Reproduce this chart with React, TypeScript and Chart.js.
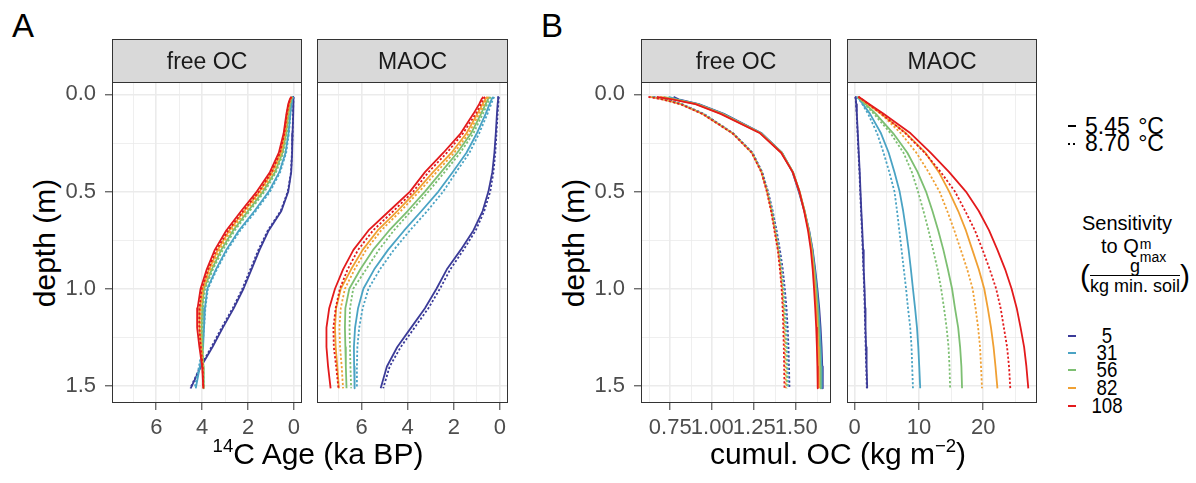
import React, { useEffect, useRef } from 'react';
import { Chart, registerables } from 'chart.js';

Chart.register(...registerables);

// ---------------- data ----------------
const DEPTH_M = [0.0125, 0.025, 0.05, 0.1, 0.2, 0.3, 0.4, 0.5, 0.6, 0.7, 0.8, 0.9, 1.0, 1.1, 1.2, 1.3, 1.4, 1.5125];
const SENSITIVITY_LABELS = ['5', '31', '56', '82', '108'];
const TEMPERATURE_LABELS = ['5.45 °C', '8.70 °C'];
const FACET_LABELS = ['free OC', 'MAOC'];

const DEPTH_TICKS = [0, 0.5, 1.0, 1.5];
const DEPTH_TICK_LABELS = ['0.0', '0.5', '1.0', '1.5'];
const DEPTH_MINOR = [0.25, 0.75, 1.25];
const AGE_TICKS = [0, 2, 4, 6];
const AGE_TICK_LABELS = ['0', '2', '4', '6'];
const AGE_MINOR = [1, 3, 5, 7];
const OCF_TICKS = [0.75, 1.0, 1.25, 1.5];
const OCF_TICK_LABELS = ['0.75', '1.00', '1.25', '1.50'];
const OCF_MINOR = [0.625, 0.875, 1.125, 1.375, 1.625];
const OCM_TICKS = [0, 10, 20];
const OCM_TICK_LABELS = ['0', '10', '20'];
const OCM_MINOR = [5, 15, 25];

// 14C age (ka BP), free OC, rows follow SENSITIVITY_LABELS
const AGE_FREE_545 = [
  [0.02, 0.025, 0.03, 0.04, 0.06, 0.08, 0.12, 0.25, 0.55, 1.1, 1.5, 1.85, 2.2, 2.62, 3.1, 3.55, 4.05, 4.5],
  [0.05, 0.08, 0.11, 0.16, 0.24, 0.37, 0.64, 1.1, 1.72, 2.4, 2.95, 3.4, 3.78, 3.88, 3.92, 3.96, 4.1, 4.28],
  [0.08, 0.12, 0.17, 0.24, 0.34, 0.5, 0.83, 1.35, 2.0, 2.65, 3.17, 3.58, 3.92, 4.0, 4.02, 3.99, 3.95, 3.93],
  [0.1, 0.15, 0.21, 0.29, 0.4, 0.58, 0.95, 1.5, 2.17, 2.82, 3.32, 3.7, 3.98, 4.1, 4.12, 4.05, 3.98, 3.95],
  [0.12, 0.18, 0.25, 0.33, 0.45, 0.66, 1.05, 1.62, 2.3, 2.95, 3.45, 3.8, 4.07, 4.2, 4.22, 4.12, 4.0, 3.95],
];
const AGE_FREE_870 = [
  [0.02, 0.025, 0.03, 0.04, 0.06, 0.09, 0.13, 0.27, 0.58, 1.14, 1.55, 1.9, 2.25, 2.67, 3.15, 3.6, 4.08, 4.52],
  [0.04, 0.07, 0.1, 0.15, 0.22, 0.34, 0.6, 1.04, 1.66, 2.34, 2.9, 3.36, 3.75, 3.86, 3.92, 3.98, 4.14, 4.33],
  [0.07, 0.11, 0.16, 0.22, 0.31, 0.46, 0.78, 1.28, 1.93, 2.58, 3.1, 3.53, 3.87, 3.97, 4.0, 3.98, 3.95, 3.93],
  [0.09, 0.14, 0.2, 0.27, 0.37, 0.54, 0.89, 1.42, 2.09, 2.74, 3.25, 3.64, 3.94, 4.06, 4.08, 4.03, 3.97, 3.95],
  [0.11, 0.17, 0.23, 0.31, 0.42, 0.61, 0.98, 1.53, 2.21, 2.87, 3.38, 3.74, 4.02, 4.12, 4.13, 4.06, 3.98, 3.95],
];
// 14C age (ka BP), MAOC
const AGE_MAOC_545 = [
  [0.07, 0.08, 0.1, 0.13, 0.18, 0.24, 0.33, 0.5, 0.75, 1.15, 1.7, 2.3, 2.75, 3.25, 3.85, 4.45, 4.9, 5.17],
  [0.3, 0.36, 0.45, 0.62, 1.0, 1.45, 2.05, 2.67, 3.4, 4.15, 4.85, 5.45, 5.92, 6.15, 6.28, 6.33, 6.32, 6.3],
  [0.45, 0.52, 0.62, 0.82, 1.25, 1.85, 2.55, 3.25, 4.0, 4.8, 5.5, 6.05, 6.53, 6.7, 6.72, 6.7, 6.68, 6.65],
  [0.55, 0.63, 0.75, 0.98, 1.45, 2.1, 2.9, 3.64, 4.45, 5.3, 5.95, 6.45, 6.9, 7.1, 7.15, 7.12, 7.05, 6.98],
  [0.72, 0.8, 0.9, 1.15, 1.7, 2.45, 3.25, 3.9, 4.8, 5.7, 6.35, 6.8, 7.15, 7.4, 7.52, 7.52, 7.45, 7.34],
];
const AGE_MAOC_870 = [
  [0.05, 0.06, 0.07, 0.1, 0.15, 0.2, 0.28, 0.42, 0.68, 1.05, 1.58, 2.15, 2.6, 3.1, 3.7, 4.3, 4.78, 5.06],
  [0.25, 0.3, 0.38, 0.54, 0.9, 1.32, 1.9, 2.46, 3.15, 3.9, 4.6, 5.2, 5.7, 5.95, 6.1, 6.18, 6.2, 6.2],
  [0.4, 0.46, 0.55, 0.74, 1.15, 1.72, 2.4, 3.1, 3.85, 4.6, 5.25, 5.8, 6.36, 6.5, 6.52, 6.5, 6.48, 6.45],
  [0.5, 0.58, 0.68, 0.9, 1.35, 1.98, 2.75, 3.5, 4.3, 5.15, 5.8, 6.3, 6.72, 6.9, 6.96, 6.93, 6.86, 6.8],
  [0.65, 0.72, 0.82, 1.05, 1.6, 2.3, 3.1, 3.76, 4.62, 5.5, 6.15, 6.6, 6.94, 7.12, 7.22, 7.2, 7.1, 7.0],
];
// cumulative OC (kg m-2), free OC
const OC_FREE_545 = [
  [0.77, 0.8, 0.92, 1.07, 1.295, 1.415, 1.478, 1.515, 1.548, 1.577, 1.598, 1.613, 1.626, 1.637, 1.645, 1.651, 1.655, 1.658],
  [0.74, 0.79, 0.915, 1.065, 1.292, 1.415, 1.481, 1.518, 1.55, 1.576, 1.596, 1.61, 1.622, 1.632, 1.64, 1.646, 1.65, 1.652],
  [0.71, 0.78, 0.91, 1.06, 1.29, 1.414, 1.481, 1.52, 1.55, 1.575, 1.594, 1.607, 1.618, 1.627, 1.634, 1.639, 1.643, 1.645],
  [0.69, 0.77, 0.905, 1.055, 1.288, 1.412, 1.48, 1.52, 1.549, 1.573, 1.591, 1.603, 1.612, 1.62, 1.627, 1.631, 1.634, 1.636],
  [0.67, 0.76, 0.9, 1.05, 1.285, 1.41, 1.479, 1.519, 1.547, 1.57, 1.587, 1.598, 1.606, 1.613, 1.619, 1.623, 1.626, 1.628],
];
const OC_FREE_870 = [
  [0.65, 0.72, 0.82, 0.95, 1.125, 1.24, 1.298, 1.332, 1.36, 1.383, 1.403, 1.42, 1.432, 1.442, 1.449, 1.454, 1.457, 1.46],
  [0.645, 0.715, 0.818, 0.948, 1.124, 1.239, 1.296, 1.33, 1.357, 1.379, 1.398, 1.414, 1.426, 1.435, 1.441, 1.446, 1.449, 1.452],
  [0.64, 0.71, 0.815, 0.945, 1.122, 1.237, 1.295, 1.328, 1.355, 1.376, 1.395, 1.41, 1.421, 1.429, 1.435, 1.44, 1.443, 1.445],
  [0.63, 0.705, 0.812, 0.942, 1.121, 1.236, 1.293, 1.326, 1.352, 1.373, 1.392, 1.406, 1.417, 1.424, 1.429, 1.433, 1.436, 1.438],
  [0.62, 0.7, 0.81, 0.94, 1.12, 1.235, 1.292, 1.325, 1.35, 1.37, 1.39, 1.403, 1.413, 1.419, 1.423, 1.426, 1.428, 1.43],
];
// cumulative OC (kg m-2), MAOC
const OC_MAOC_545 = [
  [0.15, 0.2, 0.25, 0.35, 0.5, 0.65, 0.8, 0.92, 1.05, 1.2, 1.32, 1.42, 1.55, 1.63, 1.7, 1.78, 1.87, 1.96],
  [0.4, 0.75, 1.3, 2.4, 4.1, 5.3, 6.2, 7.0, 7.55, 8.0, 8.4, 8.75, 9.07, 9.4, 9.7, 9.9, 10.05, 10.2],
  [0.5, 0.9, 1.7, 3.3, 6.0, 8.2, 9.8, 11.1, 12.1, 13.0, 13.8, 14.5, 15.15, 15.6, 16.1, 16.4, 16.6, 16.7],
  [0.55, 1.05, 2.05, 4.1, 8.0, 11.0, 13.1, 14.7, 16.1, 17.3, 18.3, 19.3, 20.15, 20.7, 21.2, 21.6, 21.9, 22.2],
  [0.6, 1.2, 2.3, 4.5, 8.7, 11.8, 14.7, 17.3, 19.3, 20.9, 22.2, 23.4, 24.4, 25.2, 25.8, 26.35, 26.7, 27.0],
];
const OC_MAOC_870 = [
  [0.12, 0.17, 0.22, 0.32, 0.46, 0.6, 0.75, 0.87, 1.0, 1.14, 1.26, 1.37, 1.49, 1.57, 1.64, 1.72, 1.8, 1.9],
  [0.4, 0.7, 1.2, 2.1, 3.5, 4.5, 5.4, 6.2, 6.6, 6.95, 7.3, 7.65, 8.0, 8.3, 8.65, 8.85, 8.95, 9.07],
  [0.5, 0.85, 1.6, 3.0, 5.6, 7.6, 8.9, 9.85, 10.7, 11.5, 12.2, 12.9, 13.45, 13.9, 14.3, 14.6, 14.75, 14.85],
  [0.55, 1.05, 2.0, 4.1, 7.2, 9.6, 11.5, 13.2, 14.4, 15.5, 16.5, 17.5, 18.35, 18.8, 19.2, 19.5, 19.65, 19.8],
  [0.6, 1.15, 2.2, 4.2, 7.9, 10.9, 13.4, 15.6, 17.2, 18.7, 19.9, 21.0, 22.0, 22.7, 23.2, 23.7, 24.0, 24.2],
];

// ---------------- styling / layout ----------------
const SENS_COLORS = ['#3b3b98', '#4aa3c4', '#7dbf72', '#f0a033', '#e31a1c'];
const FONT = '"Liberation Sans", Arial, Helvetica, sans-serif';
const PANEL_TOP = 82;
const PANEL_BOTTOM = 403;
const STRIP_H = 43;
const CANVAS_TOP = 30;
const CANVAS_H = 415;
const Y_AXIS_W = 50;
const RIGHT_PAD = 10;
const X_AXIS_H = 42;
const DEPTH_RANGE: [number, number] = [-0.064, 1.588];
const LINE_W = 1.8;

type PanelSpec = {
  strip: string;
  left: number;
  right: number;
  xRange: [number, number];
  reverse: boolean;
  ticks: number[];
  tickLabels: string[];
  minor: number[];
  showY: boolean;
  warm545: number[][];
  warm870: number[][];
};

const PANELS: PanelSpec[] = [
  { strip: FACET_LABELS[0], left: 112, right: 302, xRange: [-0.35, 7.93], reverse: true, ticks: AGE_TICKS, tickLabels: AGE_TICK_LABELS, minor: AGE_MINOR, showY: true, warm545: AGE_FREE_545, warm870: AGE_FREE_870 },
  { strip: FACET_LABELS[1], left: 317, right: 508, xRange: [-0.35, 7.93], reverse: true, ticks: AGE_TICKS, tickLabels: AGE_TICK_LABELS, minor: AGE_MINOR, showY: false, warm545: AGE_MAOC_545, warm870: AGE_MAOC_870 },
  { strip: FACET_LABELS[0], left: 641, right: 831, xRange: [0.576, 1.707], reverse: false, ticks: OCF_TICKS, tickLabels: OCF_TICK_LABELS, minor: OCF_MINOR, showY: true, warm545: OC_FREE_545, warm870: OC_FREE_870 },
  { strip: FACET_LABELS[1], left: 847, right: 1037, xRange: [-1.18, 28.35], reverse: false, ticks: OCM_TICKS, tickLabels: OCM_TICK_LABELS, minor: OCM_MINOR, showY: false, warm545: OC_MAOC_545, warm870: OC_MAOC_870 },
];

const near = (a: number, b: number) => Math.abs(a - b) < 1e-9;

const facetPlugin = {
  id: 'facetFrame',
  afterDraw(chart: any, _args: any, opts: any) {
    const { ctx, chartArea } = chart;
    const { left, right, top, bottom } = chartArea;
    ctx.save();
    ctx.fillStyle = '#d9d9d9';
    ctx.fillRect(left, top - STRIP_H, right - left, STRIP_H);
    ctx.strokeStyle = '#333333';
    ctx.lineWidth = 1;
    ctx.strokeRect(left + 0.5, top - STRIP_H + 0.5, right - left - 1, STRIP_H);
    ctx.strokeRect(left + 0.5, top + 0.5, right - left - 1, bottom - top - 1);
    ctx.fillStyle = '#1a1a1a';
    ctx.font = `23px ${FONT}`;
    ctx.textAlign = 'center';
    ctx.textBaseline = 'alphabetic';
    ctx.fillText(opts.text, (left + right) / 2, top - STRIP_H / 2 + 8);
    ctx.restore();
  },
};

function makeAxisGrid(major: number[], showTicks: boolean) {
  return {
    color: '#ebebeb',
    lineWidth: (c: any) => (c.tick && major.some((m) => near(m, c.tick.value)) ? 1.6 : 0.8),
    drawTicks: true,
    tickLength: 7,
    tickWidth: 1,
    tickColor: (c: any) =>
      showTicks && c.tick && major.some((m) => near(m, c.tick.value)) ? '#333333' : 'rgba(0,0,0,0)',
  };
}

function Panel({ spec }: { spec: PanelSpec }) {
  const ref = useRef<HTMLCanvasElement | null>(null);
  const width = Y_AXIS_W + (spec.right - spec.left) + RIGHT_PAD;
  useEffect(() => {
    if (!ref.current) return;
    const datasets: any[] = [];
    for (let i = SENSITIVITY_LABELS.length - 1; i >= 0; i--) {
      datasets.push({
        label: `${SENSITIVITY_LABELS[i]} ${TEMPERATURE_LABELS[0]}`,
        data: DEPTH_M.map((d, j) => ({ x: spec.warm545[i][j], y: d })),
        borderColor: SENS_COLORS[i],
        borderWidth: LINE_W,
        showLine: true,
        pointRadius: 0,
        fill: false,
        tension: 0,
        borderJoinStyle: 'round',
      });
      datasets.push({
        label: `${SENSITIVITY_LABELS[i]} ${TEMPERATURE_LABELS[1]}`,
        data: DEPTH_M.map((d, j) => ({ x: spec.warm870[i][j], y: d })),
        borderColor: SENS_COLORS[i],
        borderWidth: LINE_W,
        borderDash: [2.2, 2],
        showLine: true,
        pointRadius: 0,
        fill: false,
        tension: 0,
      });
    }
    const xAll = [...spec.ticks, ...spec.minor].sort((a, b) => a - b);
    const yAll = [...DEPTH_TICKS, ...DEPTH_MINOR].sort((a, b) => a - b);
    const chart = new Chart(ref.current, {
      type: 'scatter',
      data: { datasets },
      options: {
        animation: false,
        responsive: false,
        maintainAspectRatio: false,
        events: [],
        layout: { padding: { top: PANEL_TOP - CANVAS_TOP, right: RIGHT_PAD, bottom: 0, left: 0 } },
        plugins: {
          legend: { display: false },
          tooltip: { enabled: false },
          facetFrame: { text: spec.strip },
        } as any,
        scales: {
          x: {
            type: 'linear',
            min: spec.xRange[0],
            max: spec.xRange[1],
            reverse: spec.reverse,
            bounds: 'data',
            afterBuildTicks: (s: any) => {
              s.ticks = xAll.map((v) => ({ value: v }));
            },
            afterFit: (s: any) => {
              s.height = X_AXIS_H;
            },
            ticks: {
              autoSkip: false,
              maxRotation: 0,
              minRotation: 0,
              padding: 5,
              color: '#4d4d4d',
              font: { family: FONT, size: 22 },
              callback: (v: any) => {
                const k = spec.ticks.findIndex((t) => near(t, Number(v)));
                return k >= 0 ? spec.tickLabels[k] : '';
              },
            },
            grid: makeAxisGrid(spec.ticks, true) as any,
            border: { display: false },
          },
          y: {
            type: 'linear',
            min: DEPTH_RANGE[0],
            max: DEPTH_RANGE[1],
            reverse: true,
            bounds: 'data',
            afterBuildTicks: (s: any) => {
              s.ticks = yAll.map((v) => ({ value: v }));
            },
            afterFit: (s: any) => {
              s.width = Y_AXIS_W;
            },
            ticks: {
              display: spec.showY,
              autoSkip: false,
              padding: 9,
              color: '#4d4d4d',
              font: { family: FONT, size: 22 },
              callback: (v: any) => {
                const k = DEPTH_TICKS.findIndex((t) => near(t, Number(v)));
                return k >= 0 ? DEPTH_TICK_LABELS[k] : '';
              },
            },
            grid: makeAxisGrid(DEPTH_TICKS, spec.showY) as any,
            border: { display: false },
          },
        },
      } as any,
      plugins: [facetPlugin as any],
    });
    return () => chart.destroy();
  }, [spec]);
  return (
    <canvas
      ref={ref}
      width={width}
      height={CANVAS_H}
      style={{ position: 'absolute', left: spec.left - Y_AXIS_W, top: CANVAS_TOP, width, height: CANVAS_H }}
    />
  );
}

const BASE = 0.8465;
function Txt(props: { x: number; y: number; size: number; align?: 'left' | 'center' | 'right'; color?: string; extra?: React.CSSProperties; children: React.ReactNode }) {
  const { x, y, size, align = 'left', color = '#000', extra, children } = props;
  const style: React.CSSProperties = {
    position: 'absolute',
    top: y - BASE * size,
    fontSize: size,
    lineHeight: `${size}px`,
    whiteSpace: 'nowrap',
    color,
    fontFamily: FONT,
  };
  if (align === 'left') style.left = x;
  else if (align === 'center') {
    style.left = x;
    style.transform = 'translateX(-50%)';
  } else style.right = 1196 - x;
  return <div style={{ ...style, ...extra }}>{children}</div>;
}

const AXIS_TITLE = 30;

function YTitle({ baselineX }: { baselineX: number }) {
  const size = AXIS_TITLE;
  const cx = baselineX - 0.3465 * size;
  return (
    <div
      style={{
        position: 'absolute',
        left: cx - 100,
        top: (PANEL_TOP + PANEL_BOTTOM) / 2 - size / 2,
        width: 200,
        height: size,
        lineHeight: `${size}px`,
        fontSize: size,
        textAlign: 'center',
        transform: 'rotate(-90deg)',
        fontFamily: FONT,
        color: '#000',
        whiteSpace: 'nowrap',
      }}
    >
      depth (m)
    </div>
  );
}

const sup: React.CSSProperties = { fontSize: '0.62em', position: 'relative', top: '-0.62em' };

function LegendKey({ x, y, color, dotted }: { x: number; y: number; color: string; dotted?: boolean }) {
  if (dotted) {
    return (
      <>
        <div style={{ position: 'absolute', left: x, top: y - 1, width: 2, height: 2, background: color }} />
        <div style={{ position: 'absolute', left: x + 5, top: y - 1, width: 2, height: 2, background: color }} />
      </>
    );
  }
  return <div style={{ position: 'absolute', left: x, top: y - 1, width: 8, height: 2, background: color }} />;
}

function Legend() {
  const keyLeft = 1068;
  const itemY = [336, 353, 370, 388, 406];
  return (
    <>
      <LegendKey x={keyLeft} y={126} color="#000" />
      <Txt x={1085} y={134} size={23} extra={{ wordSpacing: 2 }}>
        {TEMPERATURE_LABELS[0]}
      </Txt>
      <LegendKey x={keyLeft} y={144} color="#000" dotted />
      <Txt x={1085} y={151} size={23} extra={{ wordSpacing: 2 }}>
        {TEMPERATURE_LABELS[1]}
      </Txt>
      <Txt x={1127} y={230} size={20} align="center">
        Sensitivity
      </Txt>
      <div style={{ position: 'absolute', left: 1101, top: 253 - BASE * 20, fontSize: 20, lineHeight: '20px', fontFamily: FONT, whiteSpace: 'nowrap' }}>
        to Q
        <span style={{ display: 'inline-block', position: 'relative', width: 26, height: 10 }}>
          <span style={{ position: 'absolute', left: 1, top: -6, fontSize: 14, lineHeight: '14px' }}>m</span>
          <span style={{ position: 'absolute', left: 1, top: 7, fontSize: 14, lineHeight: '14px' }}>max</span>
        </span>
      </div>
      <div style={{ position: 'absolute', left: 1080, top: 257, height: 38, display: 'flex', alignItems: 'center', fontFamily: FONT, whiteSpace: 'nowrap' }}>
        <span style={{ fontSize: 30, lineHeight: '38px' }}>(</span>
        <div style={{ display: 'flex', flexDirection: 'column', alignItems: 'center', fontSize: 18 }}>
          <span style={{ lineHeight: '16px' }}>g</span>
          <div style={{ borderTop: '1px solid #000', alignSelf: 'stretch', margin: '1px 0' }} />
          <span style={{ lineHeight: '18px' }}>kg min. soil</span>
        </div>
        <span style={{ fontSize: 30, lineHeight: '38px' }}>)</span>
      </div>
      {SENSITIVITY_LABELS.map((s, i) => (
        <React.Fragment key={s}>
          <LegendKey x={keyLeft} y={itemY[i]} color={SENS_COLORS[i]} />
          <Txt x={1107} y={itemY[i] + 8} size={22} align="center" extra={{ transform: 'translateX(-50%) scaleX(0.85)' }}>
            {s}
          </Txt>
        </React.Fragment>
      ))}
    </>
  );
}

export default function App() {
  return (
    <div
      style={{
        position: 'absolute',
        left: 0,
        top: 0,
        width: 1196,
        height: 483,
        background: '#ffffff',
        overflow: 'hidden',
        fontFamily: FONT,
      }}
    >
      {PANELS.map((p, i) => (
        <Panel key={i} spec={p} />
      ))}
      <Txt x={12} y={37} size={33}>A</Txt>
      <Txt x={541} y={37} size={33}>B</Txt>
      <YTitle baselineX={55} />
      <YTitle baselineX={584} />
      <Txt x={318} y={464} size={AXIS_TITLE} align="center">
        <span style={sup}>14</span>C Age (ka BP)
      </Txt>
      <Txt x={838} y={464} size={AXIS_TITLE} align="center">
        cumul. OC (kg m<span style={sup}>−2</span>)
      </Txt>
      <Legend />
    </div>
  );
}
